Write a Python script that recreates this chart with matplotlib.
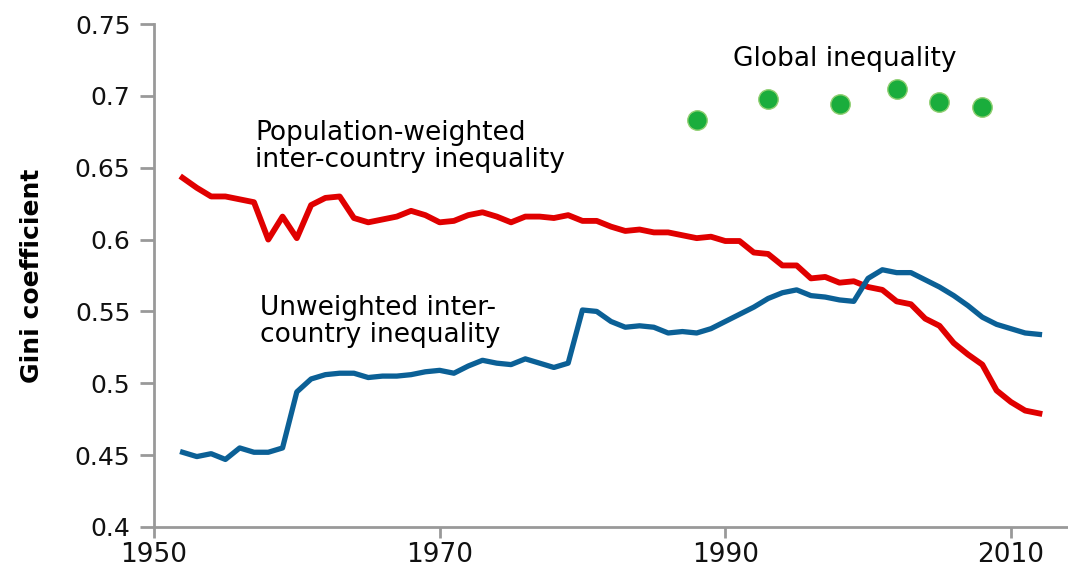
import matplotlib.pyplot as plt

years = list(range(1952, 2013))

# population-weighted inter-country inequality
weighted = [0.643, 0.636, 0.630, 0.630, 0.628, 0.626, 0.600, 0.616, 0.601, 0.624,
            0.629, 0.630, 0.615, 0.612, 0.614, 0.616, 0.620, 0.617, 0.612, 0.613,
            0.617, 0.619, 0.616, 0.612, 0.616, 0.616, 0.615, 0.617, 0.613, 0.613,
            0.609, 0.606, 0.607, 0.605, 0.605, 0.603, 0.601, 0.602, 0.599, 0.599,
            0.591, 0.590, 0.582, 0.582, 0.573, 0.574, 0.570, 0.571, 0.567, 0.565,
            0.557, 0.555, 0.545, 0.540, 0.528, 0.520, 0.513, 0.495, 0.487, 0.481,
            0.479]

# unweighted inter-country inequality
unweighted = [0.452, 0.449, 0.451, 0.447, 0.455, 0.452, 0.452, 0.455, 0.494, 0.503,
              0.506, 0.507, 0.507, 0.504, 0.505, 0.505, 0.506, 0.508, 0.509, 0.507,
              0.512, 0.516, 0.514, 0.513, 0.517, 0.514, 0.511, 0.514, 0.551, 0.550,
              0.543, 0.539, 0.540, 0.539, 0.535, 0.536, 0.535, 0.538, 0.543, 0.548,
              0.553, 0.559, 0.563, 0.565, 0.561, 0.560, 0.558, 0.557, 0.573, 0.579,
              0.577, 0.577, 0.572, 0.567, 0.561, 0.554, 0.546, 0.541, 0.538, 0.535,
              0.534]

# global inequality (survey years)
global_years = [1988, 1993, 1998, 2002, 2005, 2008]
global_gini = [0.683, 0.698, 0.694, 0.705, 0.696, 0.692]

x_ticks = [1950, 1970, 1990, 2010]
y_ticks = [0.4, 0.45, 0.5, 0.55, 0.6, 0.65, 0.7, 0.75]
y_labels = ['0.4', '0.45', '0.5', '0.55', '0.6', '0.65', '0.7', '0.75']

plt.rcParams['font.family'] = ['DejaVu Sans']

fig = plt.figure(figsize=(10.68, 5.72), dpi=100)
ax = fig.add_axes([0.1442, 0.0787, 0.8558, 0.8793])

ax.plot(years, weighted, color='#e00000', lw=4.2, solid_joinstyle='round')
ax.plot(years, unweighted, color='#0b6096', lw=3.8, solid_joinstyle='round')
ax.plot(global_years, global_gini, 'o', ms=14, color='#1aad3c',
        markeredgecolor='#8fcf70', markeredgewidth=1)

ax.set_xlim(1950, 2014)
ax.set_ylim(0.4, 0.75)
ax.set_xticks(x_ticks)
ax.set_yticks(y_ticks)
ax.set_yticklabels(y_labels)
ax.tick_params(axis='both', colors='#999999', labelcolor='#111111',
               width=2, direction='out')
ax.tick_params(axis='x', pad=3, labelsize=19, length=8)
ax.tick_params(axis='y', pad=7, labelsize=18, length=10)

for side in ['top', 'right']:
    ax.spines[side].set_visible(False)
for side in ['left', 'bottom']:
    ax.spines[side].set_color('#999999')
    ax.spines[side].set_linewidth(2)

ax.set_ylabel('Gini coefficient', fontsize=18, fontweight='bold', labelpad=22)

ax.text(1957.1, 0.6693, 'Population-weighted', fontsize=19, va='baseline', ha='left')
ax.text(1957.1, 0.6505, 'inter-country inequality', fontsize=19, va='baseline', ha='left')
ax.text(1957.4, 0.5475, 'Unweighted inter-', fontsize=19, va='baseline', ha='left')
ax.text(1957.4, 0.5287, 'country inequality', fontsize=19, va='baseline', ha='left')
ax.text(1998.35, 0.7208, 'Global inequality', fontsize=19, va='baseline', ha='center')

plt.savefig('out.png', dpi=100)
